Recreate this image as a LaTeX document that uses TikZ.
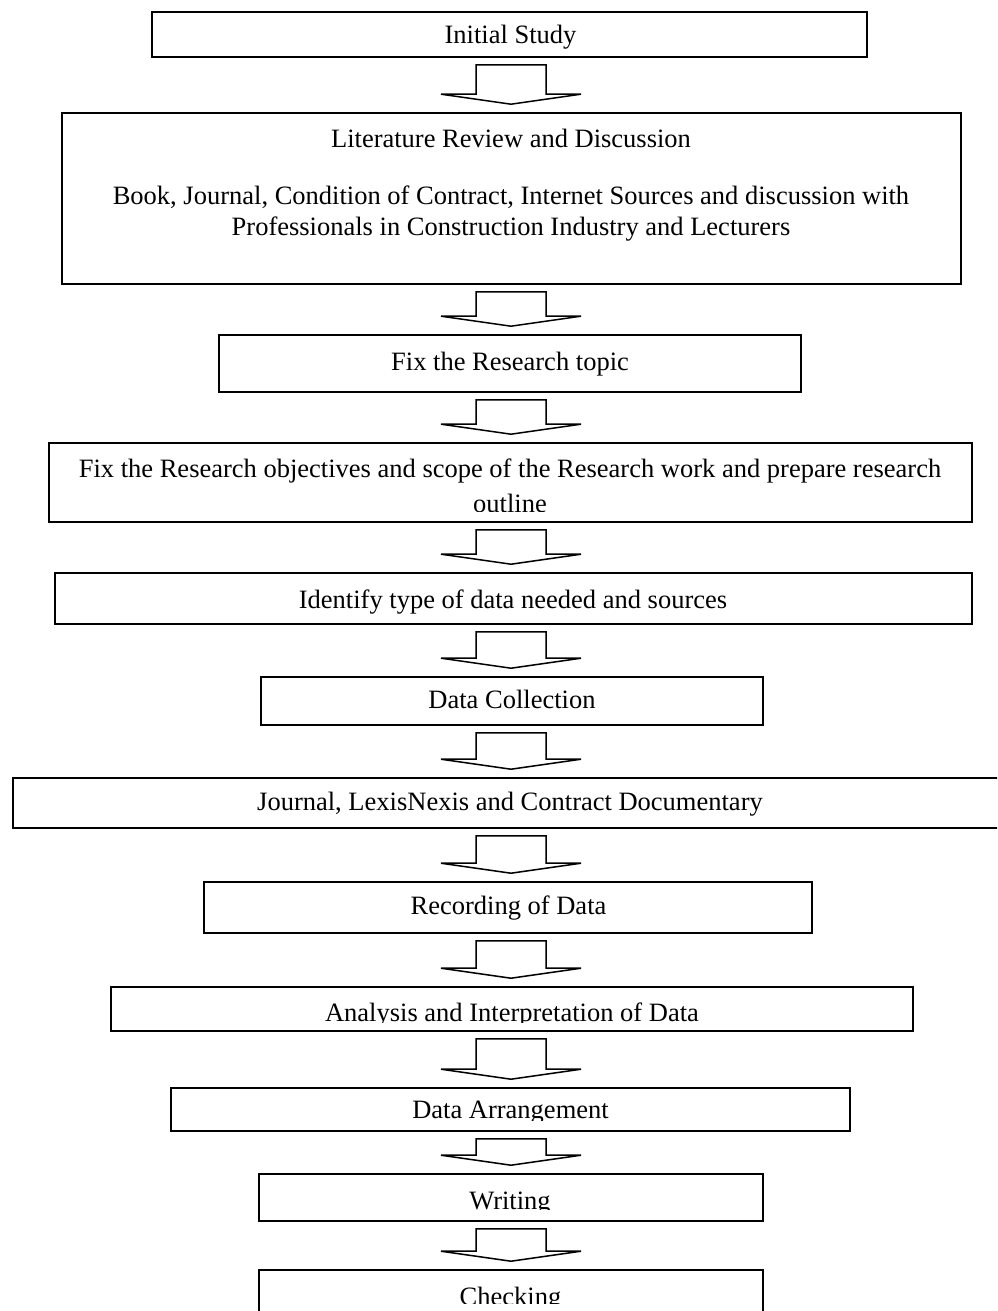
\documentclass[tikz,border=0pt]{standalone}
\usepackage{fontspec}
\setmainfont{Liberation Serif}
\usetikzlibrary{calc}
\tikzset{
  box/.style={draw=black, line width=1.6pt, fill=none, inner sep=0pt, rectangle},
  txt/.style={inner sep=0pt, anchor=base, font=\fontsize{26.5}{31}\selectfont},
  barrow/.style={draw=black, fill=white, line width=1.5pt, line join=miter}
}
\newcommand\boxat[5]{%
  \node[box, minimum width={(#4-#2)*1pt}, minimum height={(#5-#3)*1pt}] (#1) at ({(#2+#4)/2},{(#3+#5)/2}) {};}
\newcommand\blockarr[2]{%
  \draw[barrow] let \p1=(#1.south), \p2=(#2.north) in
   (476pt,\y1-7pt) -- (546pt,\y1-7pt) -- (546pt,\y2+18pt) -- (581pt,\y2+18pt)
   -- (511pt,\y2+8pt) -- (441pt,\y2+18pt) -- (476pt,\y2+18pt) -- cycle;}
\begin{document}
\begin{tikzpicture}[x=1pt, y=-1pt]
\clip (0,0) rectangle (997,1311);
\fill[white] (0,0) rectangle (997,1311);
% boxes
\boxat{b1}{152}{12}{867}{57}
\boxat{b2}{62}{113}{961}{284}
\boxat{b3}{219}{335}{801}{392}
\boxat{b4}{49}{443}{972}{522}
\boxat{b5}{55}{573}{972}{624}
\boxat{b6}{261}{677}{763}{725}
\boxat{b7}{13}{778}{1010}{828}
\boxat{b8}{204}{882}{812}{933}
\boxat{b9}{111}{987}{913}{1031}
\boxat{b10}{171}{1088}{850}{1131}
\boxat{b11}{259}{1174}{763}{1221}
\boxat{b12}{259}{1270}{763}{1330}
% texts
\node[txt] (t1) at (510.5,44) {Initial Study};
\node[txt] (t2a) at (511,147) {Literature Review and Discussion};
\node[txt] (t2b) at (511,204) {Book, Journal, Condition of Contract, Internet Sources and discussion with};
\node[txt] (t2c) at (511,235) {Professionals in Construction Industry and Lecturers};
\node[txt] (t3) at (510,370) {Fix the Research topic};
\begin{scope}
\clip (49,443) rectangle (972,511);
\node[txt] (t4a) at (510,477) {Fix the Research objectives and scope of the Research work and prepare research};
\node[txt] (t4b) at (510,512) {outline};
\end{scope}
\node[txt] (t5) at (513,608) {Identify type of data needed and sources};
\node[txt] (t6) at (512,708) {Data Collection};
\node[txt] (t7) at (510,810) {Journal, LexisNexis and Contract Documentary};
\node[txt] (t8) at (508.5,914) {Recording of Data};
\begin{scope}
\clip (111,987) rectangle (913,1022);
\node[txt] (t9) at (512,1021.5) {Analysis and Interpretation of Data};
\end{scope}
\begin{scope}
\clip (171,1088) rectangle (850,1120);
\node[txt] (t10) at (510.5,1118) {Data Arrangement};
\end{scope}
\begin{scope}
\clip (259,1174) rectangle (763,1209);
\node[txt] (t11) at (510,1209) {Writing};
\end{scope}
\begin{scope}
\clip (259,1270) rectangle (763,1303);
\node[txt] (t12) at (510.5,1305.5) {Checking};
\end{scope}
% arrows
\blockarr{b1}{b2}
\blockarr{b2}{b3}
\blockarr{b3}{b4}
\blockarr{b4}{b5}
\blockarr{b5}{b6}
\blockarr{b6}{b7}
\blockarr{b7}{b8}
\blockarr{b8}{b9}
\blockarr{b9}{b10}
\blockarr{b10}{b11}
\blockarr{b11}{b12}
\end{tikzpicture}
\end{document}
